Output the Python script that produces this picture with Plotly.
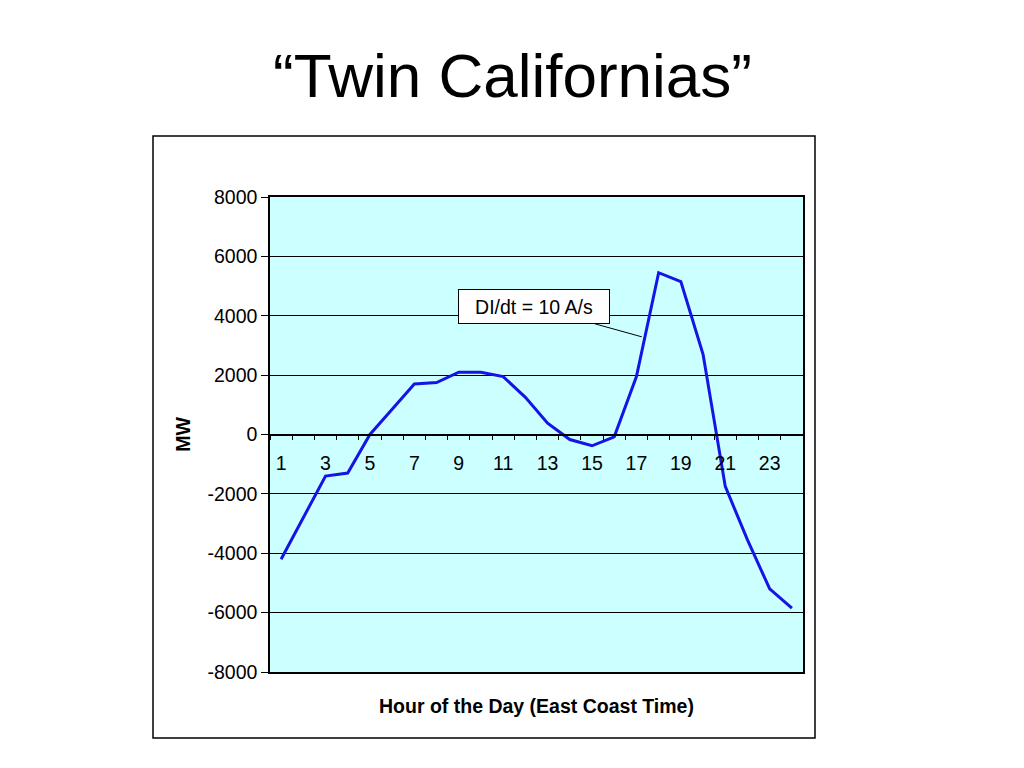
import plotly.graph_objects as go

hours = list(range(1, 25))
mw = [-4200, -2800, -1400, -1300, 0, 850, 1700, 1750, 2100, 2100, 1950, 1250,
      380, -170, -380, -80, 1950, 5450, 5150, 2700, -1750, -3550, -5200, -5850]
x_tick_vals = list(range(1, 24, 2))
x_tick_text = [str(v) for v in x_tick_vals]
y_tick_vals = list(range(-8000, 8001, 2000))
y_tick_text = [str(v) for v in y_tick_vals]

FONT = "Liberation Sans, Arial, sans-serif"
FS = 19.5

fig = go.Figure()
fig.add_trace(go.Scatter(x=hours, y=mw, mode="lines",
                         line=dict(color="#1414E6", width=3),
                         showlegend=False, hoverinfo="skip"))

fig.update_layout(
    width=1024, height=768,
    margin=dict(l=262, r=229, t=189, b=104, autoexpand=False),
    paper_bgcolor="white",
    plot_bgcolor="#CCFFFF",
    font=dict(family=FONT, size=FS, color="black"),
    title=dict(text="\u201cTwin Californias\u201d", x=0.4927, xanchor="center",
               xref="container", y=0.912, yref="container", yanchor="middle",
               font=dict(family=FONT, size=62, color="black")),
    xaxis=dict(range=[0.5, 24.5], showgrid=False, zeroline=False,
               showline=True, linecolor="black", linewidth=1.5, mirror=True,
               showticklabels=False, ticks="",
               title=dict(text="<b>Hour of the Day (East Coast Time)</b>",
                          font=dict(family=FONT, size=FS), standoff=27)),
    xaxis2=dict(overlaying="x", anchor="free", position=0.5, side="bottom",
                range=[0.5, 24.5], showgrid=False, zeroline=False,
                showline=True, linecolor="black", linewidth=1.5,
                tickvals=x_tick_vals, ticktext=x_tick_text, ticks="",
                ticklabelstandoff=11,
                tickfont=dict(family=FONT, size=FS, color="black"),
                minor=dict(ticks="outside", ticklen=5, tick0=0.5, dtick=1,
                           tickcolor="black", tickwidth=1, showgrid=False)),
    yaxis=dict(range=[-8000, 8000], tickvals=y_tick_vals, ticktext=y_tick_text,
               showgrid=True, gridcolor="black", gridwidth=1.2,
               zeroline=False, showline=True, linecolor="black", linewidth=1.5,
               mirror=True, ticks="outside", ticklen=7, tickcolor="black",
               tickfont=dict(family=FONT, size=FS, color="black"),
               title=dict(text="<b>MW</b>", font=dict(family=FONT, size=FS),
                          standoff=12)),
)

# invisible trace so xaxis2 is rendered
fig.add_trace(go.Scatter(x=[hours[0]], y=[mw[0]], xaxis="x2", mode="markers",
                         marker=dict(opacity=0), showlegend=False,
                         hoverinfo="skip"))

# outer frame around the chart
fig.add_shape(type="rect", xref="paper", yref="paper",
              x0=-0.2195, x1=1.0225, y0=-0.139, y1=1.1284,
              line=dict(color="black", width=1.5), fillcolor="rgba(0,0,0,0)",
              layer="below")

# callout
fig.add_annotation(x=17.24, y=3290, xref="x", yref="y",
                   text="DI/dt = 10 A/s", showarrow=True,
                   ax=-108, ay=-30, arrowhead=0, arrowwidth=1,
                   arrowcolor="black", bgcolor="white", bordercolor="black",
                   borderwidth=1, borderpad=6, width=138, height=21,
                   font=dict(family=FONT, size=FS, color="black"))

fig.write_html("out.html")
